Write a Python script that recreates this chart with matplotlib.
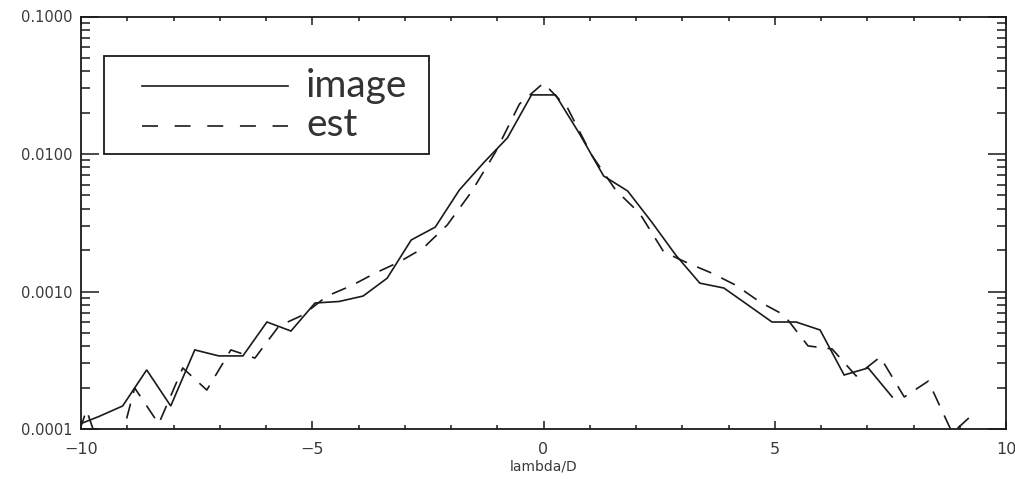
import matplotlib
matplotlib.use("Agg")
import matplotlib.pyplot as plt
from matplotlib.ticker import FixedLocator, FixedFormatter, MultipleLocator, LogLocator, NullFormatter
from matplotlib.patches import Rectangle

# ---- data ----
image_x = [-10.14, -9.62, -9.10, -8.58, -8.06, -7.54, -7.02, -6.50, -5.98, -5.46,
           -4.94, -4.42, -3.90, -3.38, -2.86, -2.34, -1.82, -1.30, -0.78, -0.26,
           0.26, 0.78, 1.30, 1.82, 2.34, 2.86, 3.38, 3.90, 4.42, 4.94,
           5.46, 5.98, 6.50, 7.02, 7.54]
image_y = [1.05e-4, 1.23e-4, 1.47e-4, 2.69e-4, 1.47e-4, 3.76e-4, 3.40e-4, 3.40e-4, 6.0e-4, 5.16e-4,
           8.25e-4, 8.46e-4, 9.27e-4, 1.25e-3, 2.37e-3, 2.94e-3, 5.47e-3, 8.6e-3, 1.31e-2, 2.69e-2,
           2.69e-2, 1.40e-2, 6.92e-3, 5.38e-3, 3.2e-3, 1.84e-3, 1.15e-3, 1.06e-3, 7.98e-4, 6.0e-4,
           6.0e-4, 5.25e-4, 2.47e-4, 2.78e-4, 1.71e-4]

est_x = [-10.40, -9.88, -9.36, -8.84, -8.32, -7.80, -7.28, -6.76, -6.24, -5.72,
         -5.20, -4.68, -4.16, -3.64, -3.12, -2.60, -2.08, -1.56, -1.04, -0.52,
         0.00, 0.52, 1.04, 1.56, 2.08, 2.60, 3.12, 3.64, 4.16, 4.68,
         5.20, 5.72, 6.24, 6.76, 7.28, 7.80, 8.32, 8.84, 9.36]
est_y = [4.26e-5, 1.37e-4, 4.26e-5, 1.99e-4, 1.09e-4, 2.78e-4, 1.92e-4, 3.76e-4, 3.28e-4, 5.61e-4,
         6.75e-4, 9.27e-4, 1.10e-3, 1.36e-3, 1.64e-3, 2.07e-3, 3.05e-3, 5.29e-3, 1.03e-2, 2.31e-2,
         3.28e-2, 2.16e-2, 9.84e-3, 5.47e-3, 3.70e-3, 1.94e-3, 1.61e-3, 1.36e-3, 1.11e-3, 8.39e-4,
         6.75e-4, 4.02e-4, 3.82e-4, 2.43e-4, 3.34e-4, 1.71e-4, 2.23e-4, 9.35e-5, 1.35e-4]

series_labels = ["image", "est"]
x_ticks = [-10, -5, 0, 5, 10]
x_ticklabels = ["\u221210", "\u22125", "0", "5", "10"]
y_ticks = [1e-4, 1e-3, 1e-2, 1e-1]
y_ticklabels = ["0.0001", "0.0010", "0.0100", "0.1000"]
x_label = "lambda/D"

# ---- figure ----
W, H = 1015, 479
fig = plt.figure(figsize=(W / 100, H / 100), dpi=100)
ax = fig.add_axes([81 / W, 1 - 429 / H, 925 / W, 412.5 / H])

ink = "#1a1a1a"
txt = "#3a3a3a"
plt.rcParams["lines.scale_dashes"] = False
dash = (0, (11, 8))

ax.plot(image_x, image_y, color=ink, lw=1.2, solid_joinstyle="miter")
ax.plot(est_x, est_y, color=ink, lw=1.2, linestyle=dash)

ax.set_yscale("log")
ax.set_xlim(-10, 10)
ax.set_ylim(1e-4, 1e-1)

ax.xaxis.set_major_locator(FixedLocator(x_ticks))
ax.xaxis.set_major_formatter(FixedFormatter(x_ticklabels))
ax.xaxis.set_minor_locator(MultipleLocator(1))
ax.yaxis.set_major_locator(FixedLocator(y_ticks))
ax.yaxis.set_major_formatter(FixedFormatter(y_ticklabels))
ax.yaxis.set_minor_locator(LogLocator(base=10, subs=range(2, 10), numticks=20))
ax.yaxis.set_minor_formatter(NullFormatter())

ax.tick_params(which="both", direction="in", top=True, right=True, colors=ink, width=1.1)
ax.tick_params(axis="y", which="major", length=13.3, labelsize=10.5, pad=6, labelcolor=txt)
ax.tick_params(axis="y", which="minor", length=6.5)
ax.tick_params(axis="x", which="major", length=6.0, labelsize=11.5, pad=9, labelcolor=txt)
ax.tick_params(axis="x", which="minor", length=3.0)
for s in ax.spines.values():
    s.set_linewidth(1.3)
    s.set_color(ink)

ax.set_xlabel(x_label, fontsize=10, color=txt, labelpad=2)

# ---- legend box ----
def ax_x(px):
    return (px - 81) / 925.0

def ax_y(py):
    return (429 - py) / 412.5

ax.add_patch(Rectangle((ax_x(104), ax_y(154)), ax_x(429) - ax_x(104), ax_y(56) - ax_y(154),
                       transform=ax.transAxes, fill=False, edgecolor=ink, lw=1.3, zorder=5))
ax.plot([ax_x(142), ax_x(288)], [ax_y(86), ax_y(86)], transform=ax.transAxes,
        color=ink, lw=1.2, zorder=6, clip_on=False)
ax.plot([ax_x(142), ax_x(288)], [ax_y(126), ax_y(126)], transform=ax.transAxes,
        color=ink, lw=1.2, linestyle=(0, (11.5, 12)), zorder=6, clip_on=False)
legend_font = dict(family=["Lato", "DejaVu Sans"], weight="normal", size=28)
ax.text(ax_x(306), ax_y(97), series_labels[0], transform=ax.transAxes,
        color="#333333", va="baseline", ha="left", zorder=6, **legend_font)
ax.text(ax_x(306), ax_y(136), series_labels[1], transform=ax.transAxes,
        color="#333333", va="baseline", ha="left", zorder=6, **legend_font)

fig.savefig("out.png", dpi=100)
